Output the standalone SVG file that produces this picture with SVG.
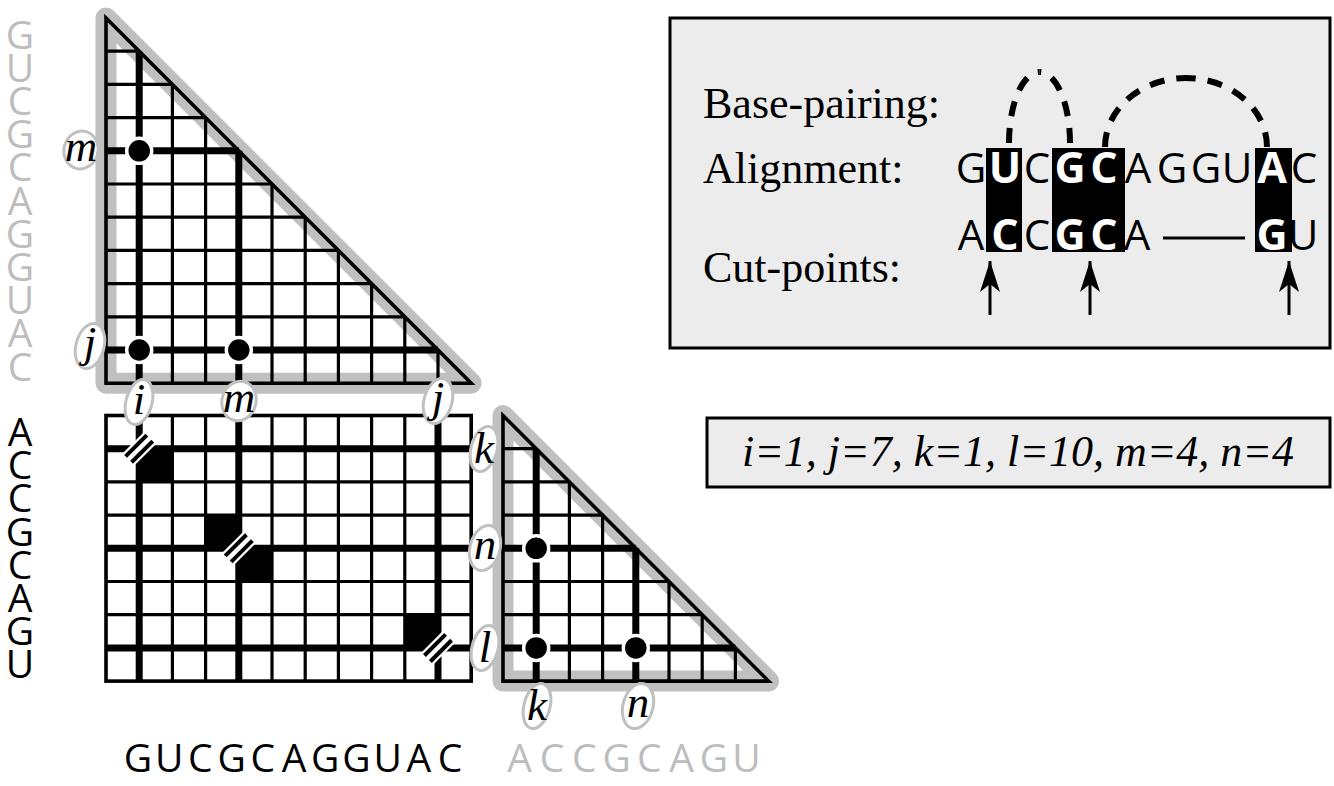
<svg xmlns="http://www.w3.org/2000/svg" xmlns:xlink="http://www.w3.org/1999/xlink" width="1334" height="786" viewBox="0 0 1334 786">
<style>
.halo{fill:#fff;stroke:#c0c0c0;stroke-width:21;stroke-linejoin:round}
.thin{fill:none;stroke:#000;stroke-width:3.2}
.thick{fill:none;stroke:#000;stroke-width:7;stroke-linecap:butt}
.edge{fill:none;stroke:#000;stroke-width:3.6;stroke-linejoin:miter}
.dot{fill:#000;stroke:#fff;stroke-width:3.5}
.lab ellipse{fill:#fff;stroke:#c0c0c0;stroke-width:3}
.lab text{font-family:"Liberation Serif",serif;font-style:italic;font-size:45px;text-anchor:middle;fill:#000}
.seq{font-family:"Open Sans",sans-serif;font-size:39px;text-anchor:middle}
.bseq{font-family:"Open Sans",sans-serif;font-size:39px;text-anchor:middle}
.gray{fill:#bdbdbd}
.blk{fill:#000}
.box{fill:#ececec;stroke:#000;stroke-width:3}
.serif{font-family:"Liberation Serif",serif;font-size:44px;fill:#000}
.lseq{font-family:"Open Sans",sans-serif;font-size:42px;text-anchor:middle;fill:#000}
.wseq{font-family:"Open Sans",sans-serif;font-size:43px;font-weight:bold;text-anchor:middle;fill:#fff}
.arc{fill:none;stroke:#000;stroke-width:6;stroke-dasharray:15 12}
.cut{stroke:#000;stroke-width:3;marker-end:url(#arr)}
</style>
<defs>
<marker id="arr" viewBox="-32 -11 34 22" markerWidth="34" markerHeight="22" refX="0" refY="0" markerUnits="userSpaceOnUse" orient="auto">
<path d="M0,0 L-31,-10 L-23,0 L-31,10 Z" fill="#000"/>
</marker>
<g id="brk">
<rect x="-16" y="-8.5" width="32" height="17" fill="#fff"/>
<path d="M-15 -4.2H15M-15 4.2H15" stroke="#000" stroke-width="4"/>
</g>
</defs>

<!-- upper triangle -->
<g id="upper-triangle">
<polygon class="halo" points="106,18 471.2,383.2 106,383.2"/>
<path class="thin" d="M106 51.2H139.2M106 84.4H172.4M106 117.6H205.6M106 150.8H238.8M106 184H272M106 217.2H305.2M106 250.4H338.4M106 283.6H371.6M106 316.8H404.8M106 350H438M139.2 51.2V383.2M172.4 84.4V383.2M205.6 117.6V383.2M238.8 150.8V383.2M272 184V383.2M305.2 217.2V383.2M338.4 250.4V383.2M371.6 283.6V383.2M404.8 316.8V383.2M438 350V383.2"/>
<path class="thick" d="M139.2 52V383.2M238.8 150.8V383.2M106 150.8H238.8M106 350H438"/>
<polygon class="edge" points="106,18 471.2,383.2 106,383.2"/>
<circle class="dot" cx="139.2" cy="150.8" r="12.5"/>
<circle class="dot" cx="139.2" cy="350" r="12.5"/>
<circle class="dot" cx="238.8" cy="350" r="12.5"/>
</g>

<!-- lower square -->
<g id="lower-square">
<rect x="106" y="415.5" width="365.2" height="265.6" fill="#fff"/>
<path class="thin" d="M106 448.7H471.2M106 481.9H471.2M106 515.1H471.2M106 548.3H471.2M106 581.5H471.2M106 614.7H471.2M106 647.9H471.2M139.2 415.5V681.1M172.4 415.5V681.1M205.6 415.5V681.1M238.8 415.5V681.1M272 415.5V681.1M305.2 415.5V681.1M338.4 415.5V681.1M371.6 415.5V681.1M404.8 415.5V681.1M438 415.5V681.1"/>
<path class="thick" d="M106 448.7H471.2M106 548.3H471.2M106 647.9H471.2M139.2 415.5V681.1M238.8 415.5V681.1M438 415.5V681.1"/>
<rect x="139.2" y="448.7" width="33.2" height="33.2" fill="#000"/>
<rect x="205.6" y="515.1" width="33.2" height="33.2" fill="#000"/>
<rect x="238.8" y="548.3" width="33.2" height="33.2" fill="#000"/>
<rect x="404.8" y="614.7" width="33.2" height="33.2" fill="#000"/>
<use xlink:href="#brk" transform="translate(139.2,448.7) rotate(-45)"/>
<use xlink:href="#brk" transform="translate(238.8,548.3) rotate(-45)"/>
<use xlink:href="#brk" transform="translate(438,647.9) rotate(-45)"/>
<rect class="edge" x="106" y="415.5" width="365.2" height="265.6"/>
</g>

<!-- lower triangle -->
<g id="lower-triangle">
<polygon class="halo" points="503,415.5 768.6,681.1 503,681.1"/>
<path class="thin" d="M503 448.7H536.2M503 481.9H569.4M503 515.1H602.6M503 548.3H635.8M503 581.5H669M503 614.7H702.2M503 647.9H735.4M536.2 448.7V681.1M569.4 481.9V681.1M602.6 515.1V681.1M635.8 548.3V681.1M669 581.5V681.1M702.2 614.7V681.1M735.4 647.9V681.1"/>
<path class="thick" d="M536.2 449.5V681.1M635.8 548.3V681.1M503 548.3H635.8M503 647.9H735.4"/>
<polygon class="edge" points="503,415.5 768.6,681.1 503,681.1"/>
<circle class="dot" cx="536.2" cy="548.3" r="12.5"/>
<circle class="dot" cx="536.2" cy="647.9" r="12.5"/>
<circle class="dot" cx="635.8" cy="647.9" r="12.5"/>
</g>

<!-- index labels -->
<g id="labels" class="lab">
<g id="lab-m-left"><ellipse cx="81" cy="150" rx="17" ry="19" transform="rotate(15 81 150)"/><text x="81" y="161">m</text></g>
<g id="lab-j-left"><ellipse cx="90" cy="346" rx="14" ry="23" transform="rotate(15 90 346)"/><text x="90" y="357">j</text></g>
<g id="lab-i-bottom"><ellipse cx="139" cy="402" rx="13" ry="23" transform="rotate(15 139 402)"/><text x="139" y="414">i</text></g>
<g id="lab-m-bottom"><ellipse cx="239" cy="401" rx="17" ry="20" transform="rotate(15 239 401)"/><text x="239" y="412">m</text></g>
<g id="lab-j-bottom"><ellipse cx="438" cy="401" rx="14" ry="23" transform="rotate(15 438 401)"/><text x="438" y="412">j</text></g>
<g id="lab-k-left"><ellipse cx="484" cy="449" rx="13" ry="23" transform="rotate(15 484 449)"/><text x="484" y="463">k</text></g>
<g id="lab-n-left"><ellipse cx="485" cy="548" rx="15" ry="23" transform="rotate(15 485 548)"/><text x="485" y="559">n</text></g>
<g id="lab-l-left"><ellipse cx="485" cy="648" rx="13" ry="23" transform="rotate(15 485 648)"/><text x="485" y="662">l</text></g>
<g id="lab-k-bottom"><ellipse cx="537" cy="706" rx="13" ry="23" transform="rotate(15 537 706)"/><text x="537" y="720">k</text></g>
<g id="lab-n-bottom"><ellipse cx="638" cy="706" rx="15" ry="23" transform="rotate(15 638 706)"/><text x="638" y="717">n</text></g>
</g>

<!-- sequences -->
<g id="seq-left-gray" class="seq gray">
<text x="20" y="48.5">G</text><text x="20" y="81.7">U</text><text x="20" y="114.9">C</text><text x="20" y="148.1">G</text><text x="20" y="181.3">C</text><text x="20" y="214.5">A</text><text x="20" y="247.7">G</text><text x="20" y="280.9">G</text><text x="20" y="314.1">U</text><text x="20" y="347.3">A</text><text x="20" y="380.5">C</text>
</g>
<g id="seq-left-black" class="seq blk">
<text x="20" y="446">A</text><text x="20" y="479.2">C</text><text x="20" y="512.4">C</text><text x="20" y="545.6">G</text><text x="20" y="578.8">C</text><text x="20" y="612">A</text><text x="20" y="645.2">G</text><text x="20" y="678.4">U</text>
</g>
<g id="seq-bottom-black" class="bseq blk">
<text x="138" y="772">G</text><text x="169.2" y="772">U</text><text x="200.4" y="772">C</text><text x="231.6" y="772">G</text><text x="262.8" y="772">C</text><text x="294" y="772">A</text><text x="325.2" y="772">G</text><text x="356.4" y="772">G</text><text x="387.6" y="772">U</text><text x="418.8" y="772">A</text><text x="450" y="772">C</text>
</g>
<g id="seq-bottom-gray" class="bseq gray">
<text x="519.6" y="772">A</text><text x="552" y="772">C</text><text x="584.4" y="772">C</text><text x="616.8" y="772">G</text><text x="649.2" y="772">C</text><text x="681.6" y="772">A</text><text x="714" y="772">G</text><text x="746.4" y="772">U</text>
</g>

<!-- legend -->
<g id="legend">
<rect class="box" x="670" y="18" width="660" height="330"/>
<text class="serif" x="703" y="118">Base-pairing:</text>
<text class="serif" x="703" y="183">Alignment:</text>
<text class="serif" x="703" y="282">Cut-points:</text>
<rect x="986" y="148" width="36" height="104" fill="#000"/>
<rect x="1052" y="148" width="73" height="104" fill="#000"/>
<rect x="1255" y="148" width="37" height="104" fill="#000"/>
<text class="lseq" x="971" y="183">G</text>
<text class="wseq" x="1005" y="183">U</text>
<text class="lseq" x="1037" y="183">C</text>
<text class="wseq" x="1070" y="183">G</text>
<text class="wseq" x="1104" y="183">C</text>
<text class="lseq" x="1138" y="183">A</text>
<text class="lseq" x="1172" y="183">G</text>
<text class="lseq" x="1206" y="183">G</text>
<text class="lseq" x="1237" y="183">U</text>
<text class="wseq" x="1272" y="183">A</text>
<text class="lseq" x="1304" y="183">C</text>
<text class="lseq" x="971" y="250">A</text>
<text class="wseq" x="1005" y="250">C</text>
<text class="lseq" x="1037" y="250">C</text>
<text class="wseq" x="1070" y="250">G</text>
<text class="wseq" x="1104" y="250">C</text>
<text class="lseq" x="1137" y="250">A</text>
<path d="M1163 238H1245" stroke="#000" stroke-width="3"/>
<text class="wseq" x="1272" y="250">G</text>
<text class="lseq" x="1303" y="250">U</text>
</g>

<g id="connectors">
<path class="arc" d="M1009 143A30.5 71 0 0 1 1039.5 72"/>
<path class="arc" d="M1070 143A30.5 71 0 0 0 1039.5 72"/>
<path class="arc" d="M1105 147A81 69 0 0 1 1186 78"/>
<path class="arc" d="M1267 147A81 69 0 0 0 1186 78"/>
<line class="cut" x1="990" y1="315" x2="990" y2="261"/>
<line class="cut" x1="1090" y1="315" x2="1090" y2="261"/>
<line class="cut" x1="1289" y1="315" x2="1289" y2="261"/>
</g>

<g id="values">
<rect class="box" x="707" y="418" width="623" height="69"/>
<text class="serif" x="1018" y="466" text-anchor="middle" font-style="italic">i=1, j=7, k=1, l=10, m=4, n=4</text>
</g>
</svg>
